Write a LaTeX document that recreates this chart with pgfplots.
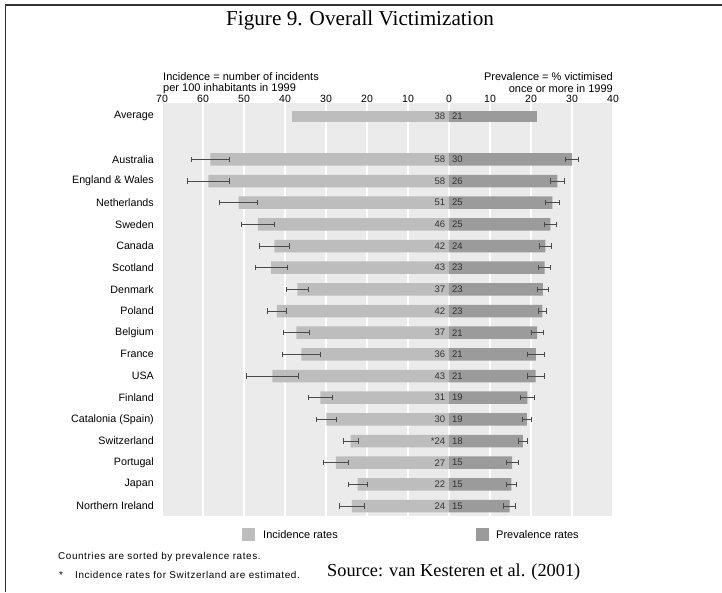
\documentclass[border=0pt]{standalone}
\usepackage{fontspec}
\setmainfont{Liberation Serif}
\setsansfont{Liberation Sans}
\newfontfamily\notefont[LetterSpace=6]{Liberation Sans}
\usepackage{pgfplots}
\usepackage{pgfplotstable}
\pgfplotsset{compat=1.18}
\definecolor{bgGrey}{HTML}{EBEBEB}
\definecolor{incGrey}{HTML}{BDBDBD}
\definecolor{prevGrey}{HTML}{9B9B9B}
\definecolor{errGrey}{HTML}{4A4A4A}
\definecolor{frameGrey}{HTML}{333333}

\pgfplotstableread{
pos inc incerr prev preverr il pl
2 -58.2 4.6 30.0 1.6 58 30
3 -58.7 5.2 26.4 1.7 58 26
4 -51.3 4.6 25.2 1.6 51 25
5 -46.6 4.1 24.7 1.5 46 25
6 -42.6 3.7 23.5 1.5 42 24
7 -43.4 3.9 23.3 1.4 43 23
8 -37.0 2.6 22.9 1.3 37 23
9 -42.0 2.3 22.8 1.0 42 23
10 -37.2 3.2 21.5 1.5 37 21
11 -36.0 4.7 21.2 2.0 36 21
12 -43.1 6.4 21.1 2.1 43 21
13 -31.4 3.0 19.1 1.6 31 19
14 -29.9 2.4 19.0 1.2 30 19
15 -24.0 1.8 18.0 1.0 *24 18
16 -27.6 3.1 15.4 1.4 27 15
17 -22.3 2.3 15.2 1.3 22 15
18 -23.7 3.0 14.8 1.5 24 15
}\data

\pgfplotstableread{
pos inc prev il pl
0 -38.4 21.5 38 21
}\avg

\begin{document}
\begin{tikzpicture}[x=1pt,y=1pt]
\useasboundingbox (0,-592) rectangle (722,0);
% frame
\draw[frameGrey, line width=1.6pt] (5.5,-592) -- (5.5,-5) -- (722,-5);
% title
\node[font=\fontsize{21.2}{24}\selectfont] at (360,-20) {Figure 9. Overall Victimization};

\begin{axis}[
  at={(162pt,-516pt)}, anchor=south west,
  scale only axis, width=451pt, height=413pt,
  xmin=-70, xmax=40, ymin=-0.6, ymax=18.46,
  y dir=reverse,
  axis background/.style={fill=bgGrey},
  axis line style={draw=none},
  xtick={-70,-60,...,40},
  xticklabels={70,60,50,40,30,20,10,0,10,20,30,40},
  xticklabel pos=upper,
  xticklabel style={font=\sffamily\fontsize{10.5}{12}\selectfont, anchor=south, inner sep=0pt, yshift=0.5pt},
  ytick={0,2,3,...,18},
  yticklabels={Average,Australia,England \& Wales,Netherlands,Sweden,Canada,Scotland,Denmark,Poland,Belgium,France,USA,Finland,Catalonia (Spain),Switzerland,Portugal,Japan,Northern Ireland},
  yticklabel style={font=\sffamily\fontsize{10.7}{12}\selectfont, anchor=east, inner sep=0pt, xshift=-8pt},
  major tick length=0pt,
  tick style={draw=none},
  xmajorgrids,
  major grid style={white, line width=1.4pt},
  clip=false,
]
\addplot[xbar, bar width=12.5pt, bar shift=0pt, fill=incGrey, draw=none,
  error bars/.cd, x dir=both, x explicit, error mark=|,
  error bar style={errGrey, line width=0.7pt},
  error mark options={errGrey, line width=0.7pt, mark size=2.6pt}]
  table[x=inc, y=pos, x error=incerr] {\data};
\addplot[xbar, bar width=12.5pt, bar shift=0pt, fill=prevGrey, draw=none,
  error bars/.cd, x dir=both, x explicit, error mark=|,
  error bar style={errGrey, line width=0.7pt},
  error mark options={errGrey, line width=0.7pt, mark size=2.6pt}]
  table[x=prev, y=pos, x error=preverr] {\data};
\addplot[xbar, bar width=11pt, bar shift=0pt, fill=incGrey, draw=none]
  table[x=inc, y=pos] {\avg};
\addplot[xbar, bar width=11pt, bar shift=0pt, fill=prevGrey, draw=none]
  table[x=prev, y=pos] {\avg};
% value labels
\addplot[draw=none, mark=none, nodes near coords, point meta=explicit symbolic,
  nodes near coords style={anchor=east, inner sep=0pt, font=\sffamily\fontsize{9.5}{10}\selectfont, text=black!80}]
  table[x expr=-0.9, y=pos, meta=il] {\data};
\addplot[draw=none, mark=none, nodes near coords, point meta=explicit symbolic,
  nodes near coords style={anchor=west, inner sep=0pt, font=\sffamily\fontsize{9.5}{10}\selectfont, text=black!80}]
  table[x expr=0.7, y=pos, meta=pl] {\data};
\addplot[draw=none, mark=none, nodes near coords, point meta=explicit symbolic,
  nodes near coords style={anchor=east, inner sep=0pt, font=\sffamily\fontsize{9.5}{10}\selectfont, text=black!80}]
  table[x expr=-0.9, y=pos, meta=il] {\avg};
\addplot[draw=none, mark=none, nodes near coords, point meta=explicit symbolic,
  nodes near coords style={anchor=west, inner sep=0pt, font=\sffamily\fontsize{9.5}{10}\selectfont, text=black!80}]
  table[x expr=0.7, y=pos, meta=pl] {\avg};
\end{axis}

% axis captions
\begin{scope}[font=\sffamily\fontsize{11}{13}\selectfont]
\node[anchor=west, inner sep=0pt] at (163,-77) {Incidence = number of incidents};
\node[anchor=west, inner sep=0pt] at (163,-89) {per 100 inhabitants in 1999};
\node[anchor=east, inner sep=0pt] at (613,-77) {Prevalence = \% victimised};
\node[anchor=east, inner sep=0pt] at (613,-89) {once or more in 1999};
% legend
\fill[incGrey] (242,-541) rectangle (255,-528);
\node[anchor=west, inner sep=0pt] at (263,-535) {Incidence rates};
\fill[prevGrey] (476,-541) rectangle (489,-528);
\node[anchor=west, inner sep=0pt] at (496,-535) {Prevalence rates};
\end{scope}
% footnotes
\begin{scope}[font=\notefont\fontsize{9.9}{11}\selectfont]
\node[anchor=west, inner sep=0pt] at (58,-557) {Countries are sorted by prevalence rates.};
\node[anchor=west, inner sep=0pt] at (59,-575) {*};
\node[anchor=west, inner sep=0pt] at (75,-575) {Incidence rates for Switzerland are estimated.};
\end{scope}
\node[anchor=west, inner sep=0pt, font=\fontsize{18.3}{20}\selectfont] at (327,-572) {Source: van Kesteren et al. (2001)};
\end{tikzpicture}
\end{document}
